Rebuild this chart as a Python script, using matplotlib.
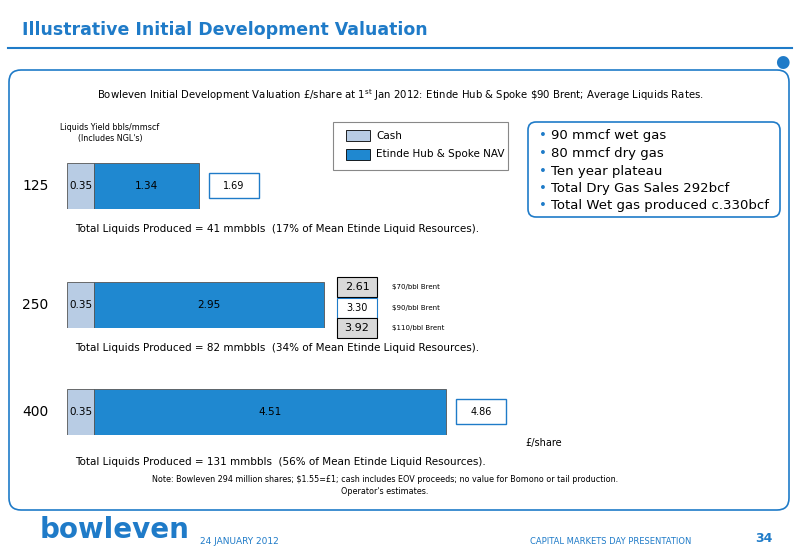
import matplotlib
matplotlib.use("Agg")
import matplotlib.pyplot as plt
from matplotlib.patches import FancyBboxPatch, Rectangle

# data
cases = ["125", "250", "400"]
cash = [0.35, 0.35, 0.35]
nav = [1.34, 2.95, 4.51]
totals = ["1.69", "3.30", "4.86"]
liquids = [41, 82, 131]
pct = [17, 34, 56]
brent_vals = ["2.61", "3.30", "3.92"]
brent_labels = ["$70/bbl Brent", "$90/bbl Brent", "$110/bbl Brent"]
bullets = ["90 mmcf wet gas", "80 mmcf dry gas", "Ten year plateau",
           "Total Dry Gas Sales 292bcf", "Total Wet gas produced c.330bcf"]

BLUE = "#1f88d0"
LIGHT = "#b8cce4"
TBLUE = "#1f7bc8"

fig = plt.figure(figsize=(8, 5.54), dpi=100)
bg = fig.add_axes([0, 0, 1, 1])
bg.set_xlim(0, 800)
bg.set_ylim(554, 0)
bg.axis("off")

bg.text(22, 30, "Illustrative Initial Development Valuation", color=TBLUE,
        fontsize=12.5, fontweight="bold", va="center")
bg.plot([8, 792], [48, 48], color=TBLUE, lw=1.5)
bg.add_patch(FancyBboxPatch((9, 70), 780, 440, boxstyle="round,pad=0,rounding_size=12",
                            fc="white", ec=TBLUE, lw=1.2))
bg.text(782, 62, "\u25CF", color=TBLUE, fontsize=12, ha="center", va="center")

bg.text(400, 95, r"Bowleven Initial Development Valuation £/share at 1$^{\mathrm{st}}$ Jan 2012: Etinde Hub & Spoke \$90 Brent; Average Liquids Rates.",
        fontsize=7.3, ha="center", va="center")
bg.text(110, 133, "Liquids Yield bbls/mmscf\n(Includes NGL's)", fontsize=5.8,
        ha="center", va="center", linespacing=1.2)

# legend box
bg.add_patch(Rectangle((333, 122), 175, 48, fc="white", ec="#888888", lw=0.8))
bg.add_patch(Rectangle((346, 130), 24, 11, fc=LIGHT, ec="black", lw=0.6))
bg.add_patch(Rectangle((346, 149), 24, 11, fc=BLUE, ec="black", lw=0.6))
bg.text(376, 136, "Cash", fontsize=7.5, va="center")
bg.text(376, 154, "Etinde Hub & Spoke NAV", fontsize=7.5, va="center")

# bullets box
bg.add_patch(FancyBboxPatch((528, 122), 252, 95, boxstyle="round,pad=0,rounding_size=8",
                            fc="white", ec=TBLUE, lw=1.2))
for i, b in enumerate(bullets):
    y = 136 + i * 17.5
    bg.text(539, y, "\u2022", color=TBLUE, fontsize=9.5, va="center")
    bg.text(551, y, b, fontsize=9.5, va="center")

rows_y = [186, 305, 412]
bar_h = 46
scale = 78.0  # px per unit
x0 = 67
for i, yc in enumerate(rows_y):
    ax = fig.add_axes([x0 / 800, 1 - (yc + bar_h / 2) / 554, 600 / 800, bar_h / 554])
    ax.set_xlim(0, 600 / scale)
    ax.set_ylim(-0.5, 0.5)
    ax.axis("off")
    ax.barh(0, cash[i], height=1, color=LIGHT, edgecolor="#555555", lw=0.6)
    ax.barh(0, nav[i], left=cash[i], height=1, color=BLUE, edgecolor="#555555", lw=0.6)
    ax.text(cash[i] / 2, 0, f"{cash[i]:.2f}", fontsize=7.5, ha="center", va="center")
    ax.text(cash[i] + nav[i] / 2, 0, f"{nav[i]:.2f}", fontsize=7.5, ha="center", va="center")
    bg.text(22, yc, cases[i], fontsize=10, va="center")
    bg.text(75, yc + 43 if i < 2 else yc + 50,
            f"Total Liquids Produced = {liquids[i]} mmbbls  ({pct[i]}% of Mean Etinde Liquid Resources).",
            fontsize=7.5, va="center")
    if i != 1:
        tx = x0 + (cash[i] + nav[i]) * scale + 10
        bg.add_patch(Rectangle((tx, yc - 13), 50, 25, fc="white", ec=TBLUE, lw=1))
        bg.text(tx + 25, yc, totals[i], fontsize=7, ha="center", va="center")

# brent sensitivity boxes
for j, (yy, fc) in enumerate(zip([287, 308, 328], ["#d9d9d9", "white", "#d9d9d9"])):
    bg.add_patch(Rectangle((337, yy - 10), 40, 20, fc=fc, ec=TBLUE if j == 1 else "black", lw=0.8))
    bg.text(357, yy, brent_vals[j], fontsize=8 if j != 1 else 7, ha="center", va="center")
    bg.text(392, yy, brent_labels[j], fontsize=5, va="center")

bg.text(525, 443, "£/share", fontsize=7, va="center")
bg.text(385, 480, "Note: Bowleven 294 million shares; \\$1.55=£1; cash includes EOV proceeds; no value for Bomono or tail production.",
        fontsize=5.8, ha="center", va="center")
bg.text(385, 492, "Operator's estimates.", fontsize=5.8, ha="center", va="center")

# footer
bg.text(40, 530, "bowleven", color=TBLUE, fontsize=20, fontweight="bold", va="center")
bg.text(200, 541, "24 JANUARY 2012", color=TBLUE, fontsize=6.5, va="center")
bg.text(530, 541, "CAPITAL MARKETS DAY PRESENTATION", color=TBLUE, fontsize=6, va="center")
bg.text(755, 538, "34", color=TBLUE, fontsize=9, fontweight="bold", va="center")

fig.savefig("out.png", dpi=100)
